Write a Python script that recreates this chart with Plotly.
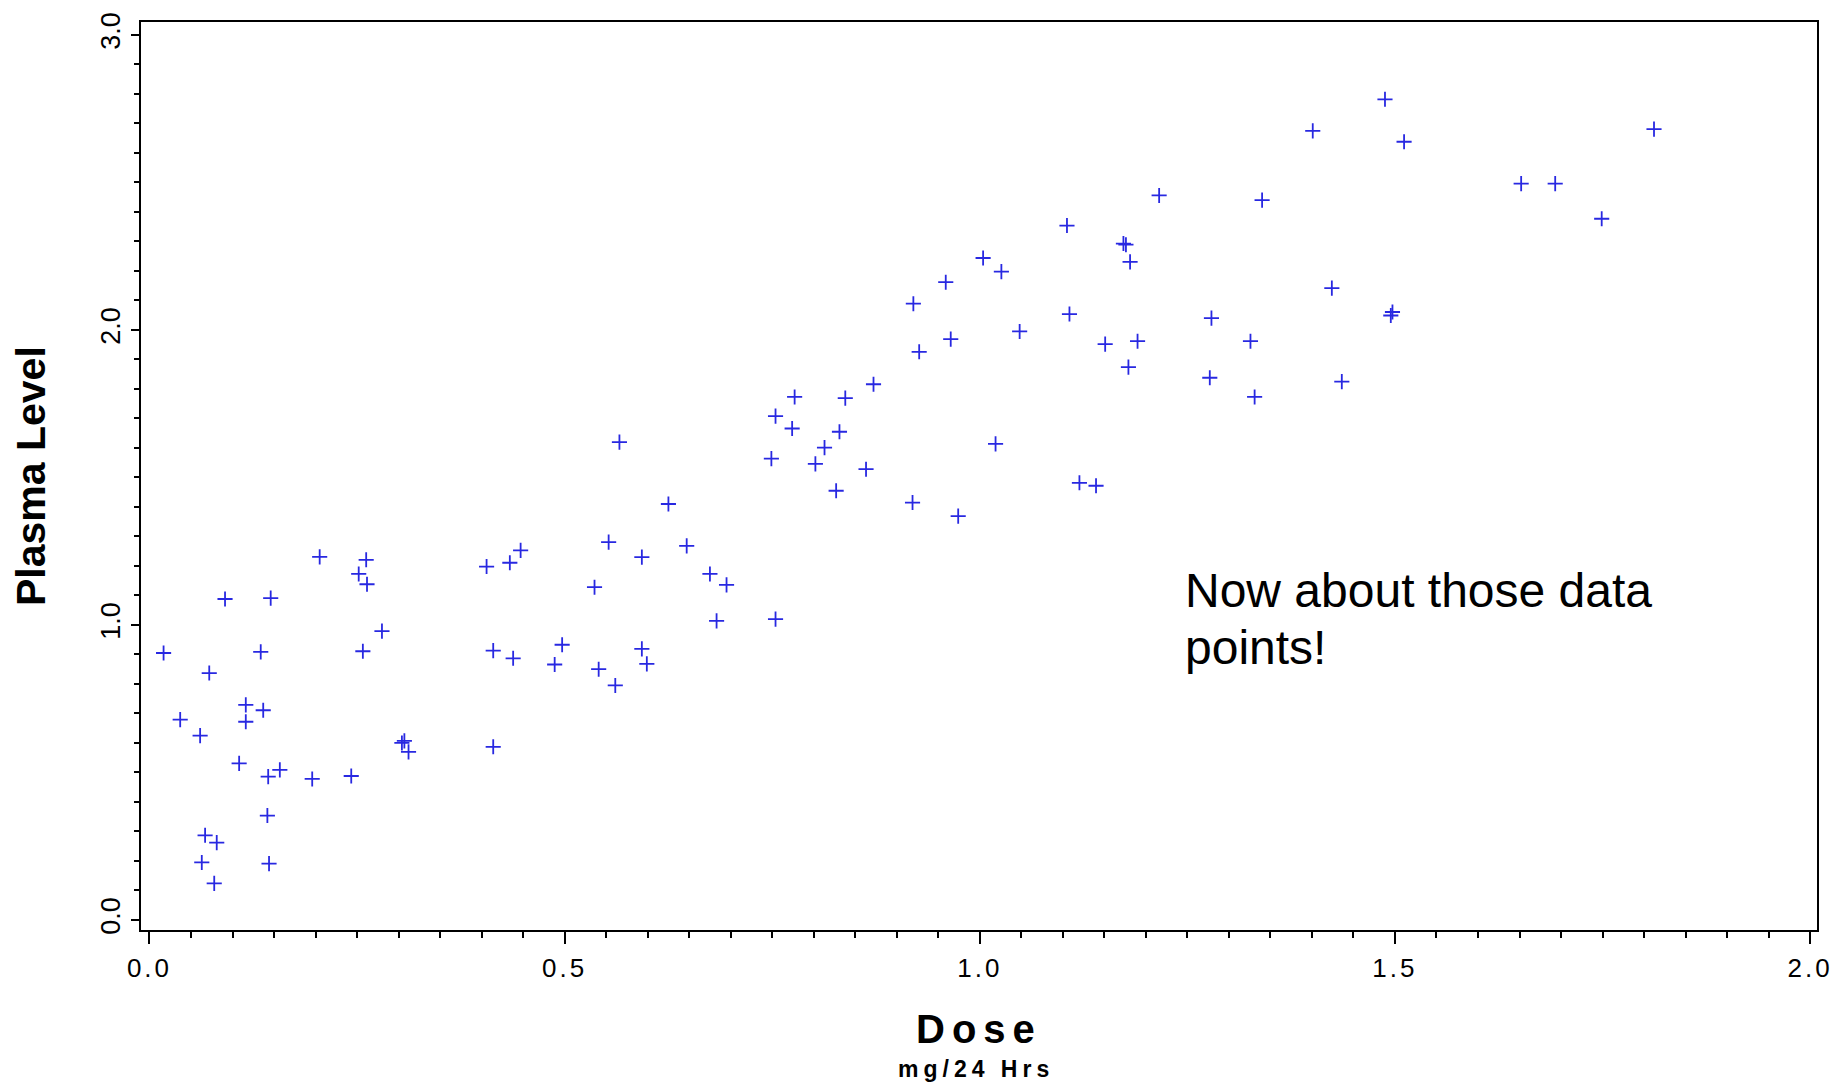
import plotly.graph_objects as go

# Data
dose = [0.017, 0.037, 0.061, 0.072, 0.091, 0.067, 0.081, 0.063, 0.078, 0.116,
        0.116, 0.108, 0.134, 0.137, 0.146, 0.143, 0.157, 0.142, 0.144, 0.196,
        0.205, 0.243, 0.252, 0.261, 0.262, 0.257, 0.280, 0.307, 0.304, 0.312,
        0.406, 0.414, 0.414, 0.434, 0.438, 0.447, 0.488, 0.497, 0.536, 0.541,
        0.553, 0.561, 0.566, 0.593, 0.593, 0.599, 0.625, 0.647, 0.675, 0.683,
        0.695, 0.749, 0.754, 0.754, 0.774, 0.777, 0.802, 0.813, 0.827, 0.831,
        0.838, 0.863, 0.872, 0.919, 0.920, 0.927, 0.959, 0.965, 0.974, 1.004,
        1.019, 1.026, 1.048, 1.105, 1.108, 1.120, 1.140, 1.151, 1.173, 1.176,
        1.181, 1.179, 1.190, 1.216, 1.277, 1.279, 1.326, 1.331, 1.340, 1.401,
        1.424, 1.436, 1.488, 1.495, 1.497, 1.511, 1.652, 1.693, 1.749, 1.812]
plasma = [0.905, 0.679, 0.625, 0.837, 1.088, 0.287, 0.262, 0.195, 0.124, 0.729,
          0.672, 0.531, 0.909, 0.711, 1.091, 0.486, 0.509, 0.354, 0.191, 0.478,
          1.231, 0.488, 1.173, 1.221, 1.138, 0.911, 0.979, 0.607, 0.600, 0.570,
          1.198, 0.913, 0.587, 1.211, 0.887, 1.253, 0.866, 0.933, 1.128, 0.850,
          1.281, 0.795, 1.620, 1.230, 0.919, 0.868, 1.410, 1.268, 1.173, 1.014,
          1.136, 1.564, 1.708, 1.020, 1.666, 1.773, 1.546, 1.601, 1.455, 1.655,
          1.769, 1.528, 1.816, 1.415, 2.089, 1.926, 2.162, 1.969, 1.369, 2.244,
          1.614, 2.198, 1.995, 2.354, 2.054, 1.482, 1.472, 1.952, 2.293, 2.289,
          2.231, 1.874, 1.962, 2.456, 1.838, 2.040, 1.962, 1.773, 2.440, 2.675,
          2.142, 1.825, 2.782, 2.049, 2.061, 2.638, 2.496, 2.496, 2.377, 2.681]

x_ticks = [0.0, 0.5, 1.0, 1.5, 2.0]
x_tick_labels = ["0.0", "0.5", "1.0", "1.5", "2.0"]
y_ticks = [0.0, 1.0, 2.0, 3.0]
y_tick_labels = ["0.0", "1.0", "2.0", "3.0"]

FONT = "Liberation Sans, Arial, Helvetica, sans-serif"

fig = go.Figure()
fig.add_trace(go.Scatter(
    x=dose, y=plasma, mode="markers",
    marker=dict(symbol="cross-thin", size=10.8, color="rgb(40,40,225)",
                line=dict(width=1.8, color="rgb(40,40,225)")),
    showlegend=False, hoverinfo="x+y",
))

fig.update_layout(
    width=1845, height=1088, autosize=False,
    margin=dict(l=141, r=26, t=18, b=158, pad=0),
    paper_bgcolor="white", plot_bgcolor="white",
    font=dict(family=FONT, color="black"),
)

fig.update_xaxes(
    range=[-0.0102, 2.0083],
    showgrid=False, zeroline=False,
    showline=True, linecolor="black", linewidth=2, mirror=True,
    ticks="outside", ticklen=12, tickwidth=2, tickcolor="black",
    tickvals=x_ticks,
    ticktext=['<span style="letter-spacing:3px">%s</span>' % t for t in x_tick_labels],
    tickfont=dict(family=FONT, size=26, color="black"),
    ticklabelstandoff=2,
    minor=dict(ticks="outside", tick0=0, dtick=0.05, ticklen=6, tickwidth=1.5,
               tickcolor="black", showgrid=False),
)
fig.update_yaxes(
    range=[-0.034, 3.044],
    showgrid=False, zeroline=False,
    showline=True, linecolor="black", linewidth=2, mirror=True,
    ticks="outside", ticklen=8, tickwidth=2, tickcolor="black",
    tickvals=y_ticks, ticktext=y_tick_labels, tickangle=-90,
    tickfont=dict(family=FONT, size=27, color="black"),
    minor=dict(ticks="outside", tick0=0, dtick=0.1, ticklen=5, tickwidth=1.5,
               tickcolor="black", showgrid=False),
)

fig.add_annotation(
    text="<b>Plasma Level</b>", xref="paper", yref="paper",
    x=-0.0656, y=0.5, xanchor="center", yanchor="middle",
    textangle=-90, showarrow=False,
    font=dict(family=FONT, size=41, color="black"),
)
fig.add_annotation(
    text='<b><span style="letter-spacing:7px">Dose</span></b>',
    xref="paper", yref="paper", x=0.5, y=-0.109,
    xanchor="center", yanchor="middle", showarrow=False,
    font=dict(family=FONT, size=40, color="black"),
)
fig.add_annotation(
    text='<b><span style="letter-spacing:5px">mg/24 Hrs</span></b>',
    xref="paper", yref="paper", x=0.4985, y=-0.1535,
    xanchor="center", yanchor="middle", showarrow=False,
    font=dict(family=FONT, size=23, color="black"),
)
fig.add_annotation(
    text="Now about those data", xref="x", yref="y",
    x=1.245, y=1.116, xanchor="left", yanchor="middle", showarrow=False,
    font=dict(family=FONT, size=48, color="black"),
)
fig.add_annotation(
    text="points!", xref="x", yref="y",
    x=1.245, y=0.923, xanchor="left", yanchor="middle", showarrow=False,
    font=dict(family=FONT, size=48, color="black"),
)

fig.write_html("out.html")
